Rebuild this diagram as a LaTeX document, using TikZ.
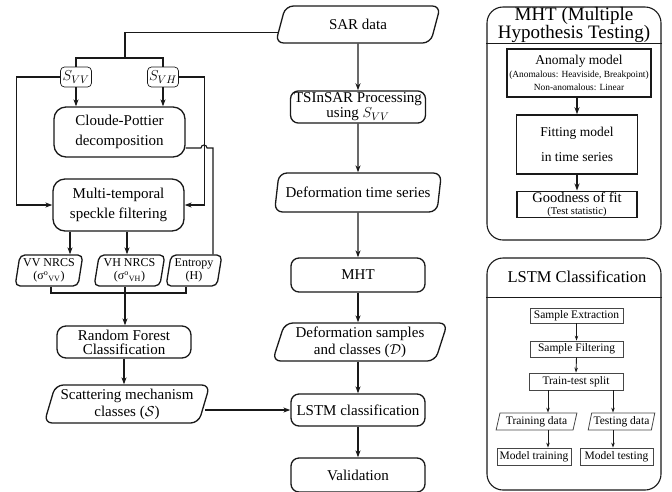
\documentclass[tikz,border=0pt]{standalone}
\usepackage{fontspec}
\setmainfont{Liberation Serif}
\usepackage{tikz}
\usetikzlibrary{
    shapes.geometric,
    arrows.meta,
    calc
}
\definecolor{Cline}{RGB}{25, 25, 25}
\definecolor{Cthin}{RGB}{70, 70, 70}
\newcommand{\fsmain}{\fontsize{15}{15}\selectfont}
\tikzset{
    proc/.style={
        rectangle, rounded corners=8pt, draw=Cline, line width=1.3pt,
        fill=white, text=black, align=center, font=\fsmain, inner sep=2pt
    },
    iodata/.style={
        trapezium, trapezium left angle=72, trapezium right angle=108,
        trapezium stretches=true, rounded corners=8pt, draw=Cline,
        line width=1.3pt, fill=white, align=center, font=\fsmain, inner sep=1pt
    },
    band/.style={
        iodata, trapezium left angle=80, trapezium right angle=100,
        rounded corners=5pt, minimum height=31pt,
        font=\fontsize{12}{13}\selectfont
    },
    sig/.style={
        rectangle, rounded corners=4pt, draw=Cline, line width=0.7pt,
        minimum width=31pt, minimum height=20pt, inner sep=1pt, font=\fsmain
    },
    panel/.style={rectangle, rounded corners=16pt, draw=Cline, line width=1.1pt},
    mbox/.style={rectangle, draw=Cline, line width=1.5pt, align=center, inner sep=1pt},
    lbox/.style={
        rectangle, draw=Cthin, line width=0.8pt, inner sep=0.5pt,
        font=\fontsize{11.5}{12}\selectfont
    },
    ldata/.style={
        trapezium, trapezium left angle=74, trapezium right angle=106,
        trapezium stretches=true, draw=Cthin, line width=0.8pt, inner sep=0.5pt,
        minimum height=17pt, font=\fontsize{11.5}{12}\selectfont
    },
    arr/.style={-{Stealth[length=7pt, width=5pt]}, line width=1.2pt, Cline},
    link/.style={line width=1.1pt, Cline},
    sarr/.style={-{Stealth[length=5pt, width=3.5pt]}, line width=0.9pt, Cline},
}

\begin{document}
\begin{tikzpicture}[x=1pt, y=-1pt]
    \useasboundingbox (0,0) rectangle (672,491);

    % centre column
    \node [iodata, minimum width=166pt, minimum height=37pt] (sar) at (358,24.5) {SAR data};
    \node [proc, minimum width=135pt, minimum height=32pt] (tsinsar) at (358,107) {TSInSAR Processing\\using $S_{VV}$};
    \node [iodata, minimum width=167pt, minimum height=39pt] (defts) at (358,192.5) {Deformation time series};
    \node [proc, minimum width=134pt, minimum height=34pt] (mht) at (358,275) {MHT};
    \node [iodata, minimum width=175pt, minimum height=38pt, font=\fontsize{15}{17}\selectfont]
        (defsamp) at (360,342) {Deformation samples\\and classes ($\mathcal{D}$)};
    \node [proc, minimum width=134pt, minimum height=32pt] (lstmc) at (358,410) {LSTM classification};
    \node [proc, minimum width=134pt, minimum height=34pt] (valid) at (358,475) {Validation};

    \draw [arr] (sar.south) -- (tsinsar.north);
    \draw [arr] (tsinsar.south) -- (defts.north);
    \draw [arr] (defts.south) -- (mht.north);
    \draw [arr] (mht.south) -- (mht.south |- defsamp.north);
    \draw [arr] (defsamp.south -| lstmc.north) -- (lstmc.north);
    \draw [arr] (lstmc.south) -- (valid.north);

    % left column
    \node [sig] (svv) at (76,77) {$S_{VV}$};
    \node [sig] (svh) at (163,77) {$S_{VH}$};
    \node [proc, rounded corners=12pt, minimum width=131pt, minimum height=50pt, font=\fontsize{15}{20}\selectfont]
        (cloude) at (119.5,132) {Cloude-Pottier\\decomposition};
    \node [proc, rounded corners=12pt, minimum width=131pt, minimum height=52pt, font=\fontsize{15}{20}\selectfont]
        (multi) at (118.5,205) {Multi-temporal\\speckle filtering};
    \node [band, minimum width=68pt] (vvnrcs) at (49,270.5) {VV NRCS\\(σ\textsuperscript{o}\textsubscript{VV})};
    \node [band, minimum width=71pt] (vhnrcs) at (129.5,270.5) {VH NRCS\\(σ\textsuperscript{o}\textsubscript{VH})};
    \node [band, minimum width=56pt] (entropy) at (194,270.5) {Entropy\\(H)};
    \node [proc, rounded corners=9pt, minimum width=134pt, minimum height=32pt, font=\fontsize{15}{14}\selectfont]
        (rf) at (124,342) {Random Forest\\Classification};
    \node [iodata, minimum width=166pt, minimum height=38pt, font=\fontsize{15}{17}\selectfont]
        (scat) at (127,404) {Scattering mechanism\\classes ($\mathcal{S}$)};

    \coordinate (sarsplit) at (125,58);
    \coordinate (merge) at (125,293);

    \draw [link] ($(sar.top left corner)!0.7!(sar.bottom left corner)$) -| (sarsplit);
    \draw [link] (svv.north) |- (sarsplit) -| (svh.north);
    \draw [arr] (svv.south) -- (svv.south |- cloude.north);
    \draw [arr] (svh.south) -- (svh.south |- cloude.north);
    \draw [arr] (svv.west) -- ++(-44,0) |- (multi.west);
    \draw [arr] (svh.east) -- ++(26,0) |- (multi.east);
    \draw [link] (cloude.east |- 0,148) -- (201,148) arc[start angle=180, end angle=0, radius=3pt]
        -- (213,148) -- (213,148 |- entropy.north);
    \draw [arr] ([xshift=-48.5pt]multi.south) -- ([xshift=-48.5pt]multi.south |- vvnrcs.north);
    \draw [arr] ([xshift=8.5pt]multi.south) -- ([xshift=8.5pt]multi.south |- vhnrcs.north);
    \draw [link] ([xshift=2pt]vvnrcs.south) |- (merge) -| ([xshift=-8pt]entropy.south);
    \draw [link] (vhnrcs.south -| merge) -- (merge);
    \draw [arr] (merge) -- (merge |- rf.north);
    \draw [arr] (rf.south) -- (rf.south |- scat.north);
    \draw [arr] (scat.east |- lstmc.west) -- (lstmc.west);

    % MHT panel
    \node [panel, minimum width=174pt, minimum height=233pt] (mhtpanel) at (574,123.5) {};
    \node [font=\fontsize{19}{16}\selectfont, align=center] (mhttitle) at (574,25) {MHT (Multiple\\Hypothesis Testing)};
    \draw [line width=0.9pt, Cline] (mhtpanel.west |- 0,43) -- (mhtpanel.east |- 0,43);
    \node [mbox, minimum width=144pt, minimum height=48pt, font=\fontsize{9.4}{13}\selectfont]
        (anomaly) at (579,73) {{\fontsize{13.5}{15}\selectfont Anomaly model}\\(Anomalous: Heaviside, Breakpoint)\\Non-anomalous: Linear};
    \node [mbox, minimum width=121pt, minimum height=59pt, font=\fontsize{13.5}{25}\selectfont]
        (fitting) at (577,144.5) {Fitting model\\in time series};
    \node [mbox, minimum width=120pt, minimum height=25pt, font=\fontsize{10.5}{12}\selectfont]
        (goodness) at (577,204.5) {{\fontsize{14.5}{14}\selectfont Goodness of fit}\\(Test statistic)};
    \draw [arr] (anomaly.south -| fitting.north) -- (fitting.north);
    \draw [arr] (fitting.south) -- (goodness.north);

    % LSTM panel
    \node [panel, minimum width=174pt, minimum height=232pt] (lstmpanel) at (574,374) {};
    \node [font=\fontsize{16.5}{18}\selectfont] (lstmtitle) at (577,277) {LSTM Classification};
    \draw [line width=0.9pt, Cline] (lstmpanel.west |- 0,297) -- (lstmpanel.east |- 0,297);
    \node [lbox, minimum width=93pt, minimum height=15pt] (extract) at (576.5,315.5) {Sample Extraction};
    \node [lbox, minimum width=93pt, minimum height=16pt] (filter) at (576.5,349) {Sample Filtering};
    \node [lbox, minimum width=94pt, minimum height=17pt] (ttsplit) at (576,381.5) {Train-test split};
    \node [ldata, minimum width=81pt] (train) at (536.5,421.5) {Training data};
    \node [ldata, minimum width=67pt] (test) at (621.5,421.5) {Testing data};
    \node [lbox, minimum width=74pt, minimum height=17pt] (mtrain) at (534,456.5) {Model training};
    \node [lbox, minimum width=73pt, minimum height=17pt] (mtest) at (616.5,456.5) {Model testing};

    \draw [sarr] (extract.south) -- (filter.north);
    \draw [sarr] (filter.south) -- (ttsplit.north);
    \draw [sarr] ([xshift=-28pt]ttsplit.south) -- ([xshift=-28pt]ttsplit.south |- train.north);
    \draw [sarr] ([xshift=37pt]ttsplit.south) -- ([xshift=37pt]ttsplit.south |- test.north);
    \draw [sarr] ([xshift=-28pt]ttsplit.south |- train.south) -- ([xshift=-28pt]ttsplit.south |- mtrain.north);
    \draw [sarr] ([xshift=37pt]ttsplit.south |- test.south) -- ([xshift=37pt]ttsplit.south |- mtest.north);

\end{tikzpicture}
\end{document}
